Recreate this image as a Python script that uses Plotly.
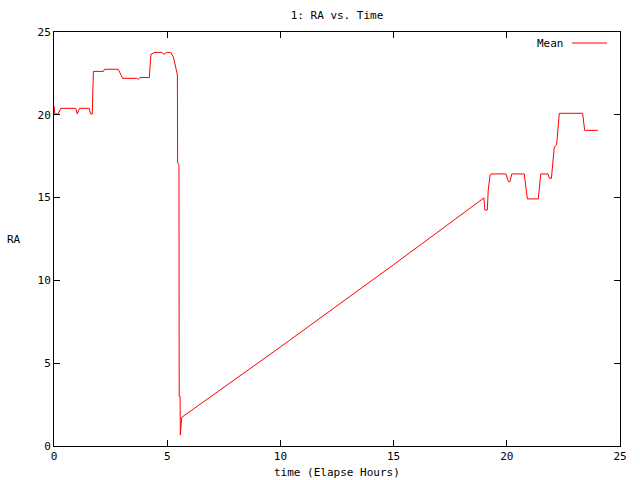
import plotly.graph_objects as go

hours = [0.00, 0.04, 0.18, 0.30, 0.96, 1.03, 1.12, 1.56, 1.61, 1.69, 1.74, 2.18, 2.23, 2.84,
         3.03, 3.65, 3.72, 3.80, 4.21, 4.28, 4.46, 4.76, 4.86, 4.98, 5.15, 5.27, 5.34, 5.42,
         5.45, 5.46, 5.52, 5.53, 5.57, 5.58, 5.61, 5.62, 5.64, 10.0, 15.0, 18.99,
         19.03, 19.14, 19.18, 19.26, 19.30, 19.96, 20.07, 20.14, 20.22, 20.77, 20.91, 21.39,
         21.50, 21.82, 21.88, 21.97, 22.00, 22.05, 22.10, 22.20, 22.29, 22.32, 23.35, 23.41,
         23.44, 24.02]
ra = [20.53, 20.05, 20.05, 20.39, 20.39, 20.05, 20.39, 20.39, 20.05, 20.05, 22.62, 22.62, 22.75, 22.75,
      22.20, 22.20, 22.15, 22.25, 22.25, 23.65, 23.77, 23.77, 23.65, 23.77, 23.77, 23.50, 23.10, 22.50,
      22.40, 17.10, 17.00, 3.00, 3.00, 0.66, 1.20, 1.73, 1.73, 5.98, 10.95, 14.98,
      14.25, 14.25, 15.46, 16.36, 16.43, 16.43, 15.96, 15.96, 16.43, 16.43, 14.92, 14.92,
      16.43, 16.43, 16.16, 16.16, 16.60, 17.57, 18.07, 18.18, 19.59, 20.09, 20.09, 19.28,
      19.06, 19.06]

x_ticks = [0, 5, 10, 15, 20, 25]
y_ticks = [0, 5, 10, 15, 20, 25]

FONT = "DejaVu Sans Mono"

fig = go.Figure()
fig.add_trace(go.Scatter(x=hours, y=ra, mode="lines", name="Mean",
                         line=dict(color="#ff0000", width=1), showlegend=False))

axis_common = dict(showline=True, linecolor="black", linewidth=1, mirror="ticks",
                   ticks="inside", ticklen=6, tickcolor="black", tickwidth=1,
                   showgrid=False, zeroline=False,
                   tickfont=dict(family=FONT, size=11, color="black"))

fig.update_layout(
    width=640, height=480,
    margin=dict(l=54, r=20, t=32, b=34),
    paper_bgcolor="white", plot_bgcolor="white",
    title=dict(text="1: RA vs. Time", x=337 / 640, xanchor="center",
               y=1 - 15 / 480, yanchor="middle",
               font=dict(family=FONT, size=11, color="black")),
    xaxis=dict(range=[0, 25], tickvals=x_ticks, ticktext=[str(v) for v in x_ticks], **axis_common),
    yaxis=dict(range=[0, 25], tickvals=y_ticks, ticktext=[str(v) for v in y_ticks], **axis_common),
    showlegend=False,
)

# x-axis title
fig.add_annotation(text="time (Elapse Hours)", xref="paper", yref="paper",
                   x=0.5, y=-26 / 414, xanchor="center", yanchor="middle", showarrow=False,
                   font=dict(family=FONT, size=11, color="black"))
# y-axis title (horizontal, gnuplot style)
fig.add_annotation(text="RA", xref="paper", yref="paper",
                   x=-49 / 566, y=0.5, xanchor="left", yanchor="middle", showarrow=False,
                   font=dict(family=FONT, size=11, color="black"))
# legend key (gnuplot style: text then line sample)
fig.add_annotation(text="Mean", xref="paper", yref="paper",
                   x=(566 - 54) / 566, y=(446 - 43) / 414, xanchor="right", yanchor="middle",
                   showarrow=False, font=dict(family=FONT, size=11, color="black"))
fig.add_shape(type="line", xref="paper", yref="paper",
              x0=(572 - 54) / 566, x1=(607 - 54) / 566,
              y0=(446 - 43) / 414, y1=(446 - 43) / 414,
              line=dict(color="#ff0000", width=1))

fig.write_html("out.html", config={"displayModeBar": False},
               post_script="document.body.style.margin='0';")
